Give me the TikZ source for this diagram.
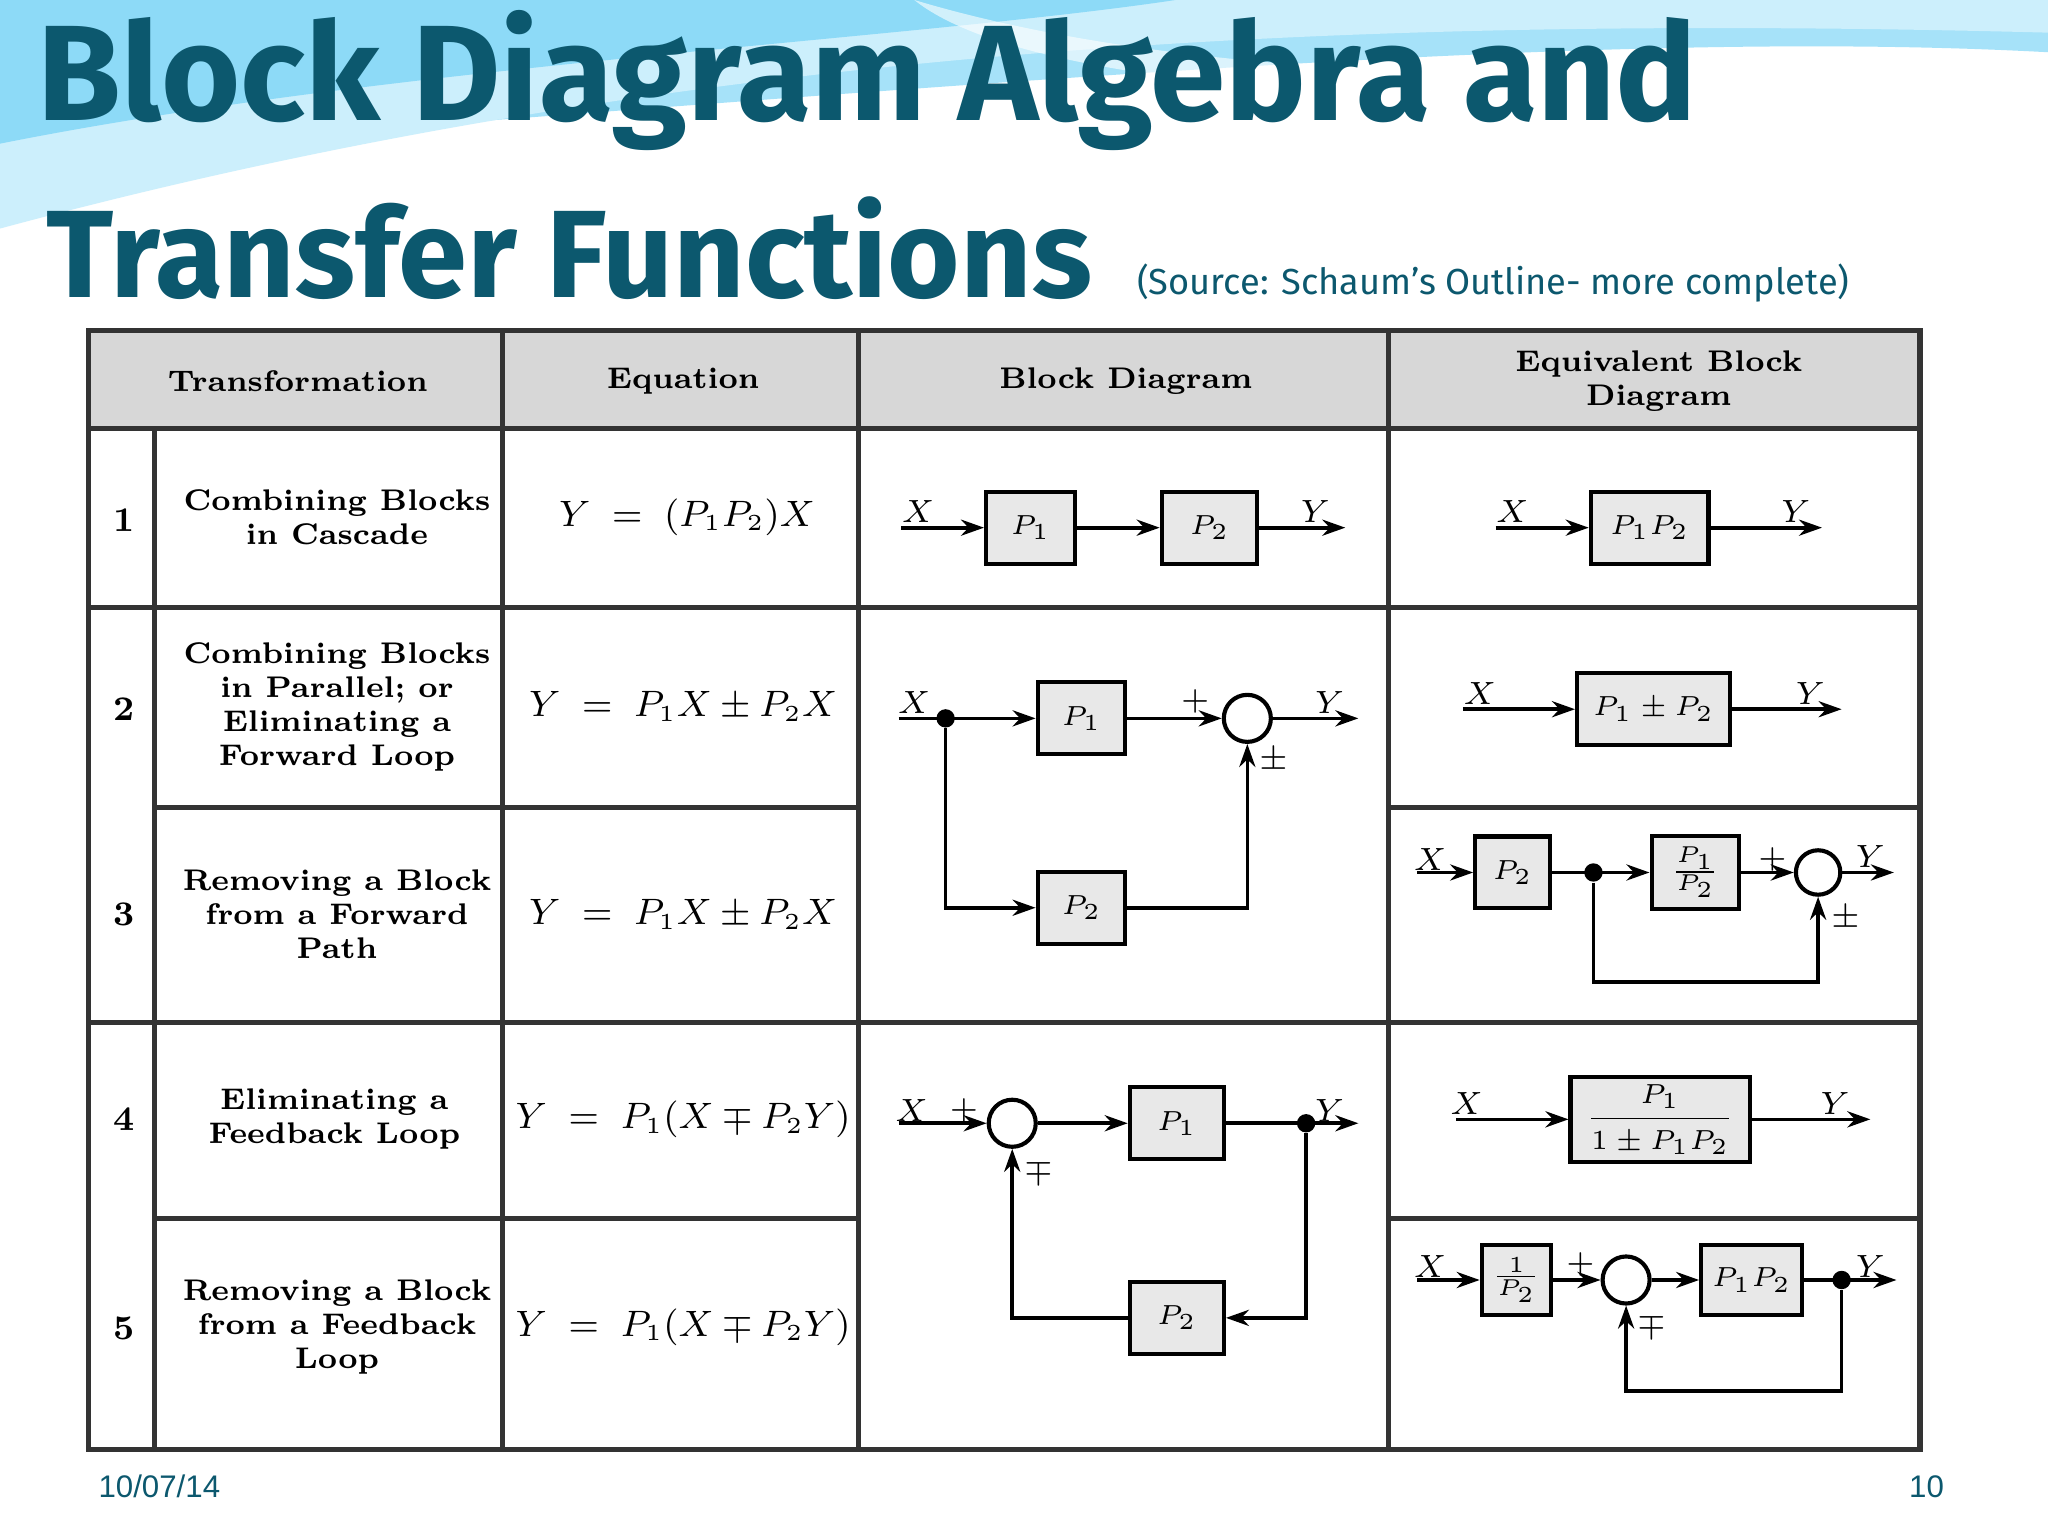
\documentclass[tikz,border=0pt]{standalone}
\usepackage{fontspec}
\usepackage{amsmath}
\newfontfamily\titlefont{Fira Sans}
\newfontfamily\datefont{Liberation Sans}
\usetikzlibrary{arrows.meta}
\definecolor{teal1}{RGB}{12,88,110}
\definecolor{hdr}{RGB}{215,215,215}
\definecolor{boxf}{RGB}{232,232,232}
\tikzset{
 blk/.style={draw,line width=0.9pt,fill=boxf,minimum width=0.68cm,minimum height=0.55cm,inner sep=1pt,font=\fontsize{6.5}{7}\selectfont\bfseries},
 sumc/.style={draw,line width=0.9pt,circle,minimum size=0.36cm,inner sep=0pt},
 arr/.style={line width=0.8pt,-{Stealth[length=5pt,width=3.5pt]}},
 ln/.style={line width=0.8pt},
 dotn/.style={circle,fill=black,inner sep=0pt,minimum size=4pt},
 lab/.style={font=\fontsize{7}{8}\selectfont\itshape\bfseries,inner sep=1pt},
 txt/.style={font=\fontsize{6.5}{7.4}\selectfont\bfseries,align=center},
 eqn/.style={font=\fontsize{7.7}{9}\selectfont},
 grid/.style={line width=1.1pt,draw=black!80}
}
\begin{document}
\begin{tikzpicture}[x=0.01cm,y=-0.01cm]
\useasboundingbox (0,0) rectangle (1568,1176);
\fill[white] (0,0) rectangle (1568,1176);
% top wave
\fill[cyan!35!white] (0,0) -- (1568,0) -- (1568,40) .. controls (1200,20) and (700,70) .. (0,120) -- cycle;
\fill[cyan!20!white] (0,0) -- (1568,0) -- (1568,25) .. controls (1000,10) and (500,40) .. (0,175) -- cycle;
\fill[cyan!55!white,opacity=0.7] (0,0) -- (900,0) .. controls (700,30) and (300,50) .. (0,110) -- cycle;
\fill[white,opacity=0.6] (700,0) .. controls (900,60) and (1200,70) .. (1568,45) -- (1568,60) .. controls (1200,90) and (800,80) .. (700,0);
% title
\node[anchor=west,text=teal1,inner sep=0] (t1) at (28,62) {\resizebox{12.7cm}{!}{\titlefont\bfseries Block Diagram Algebra and}};
\node[anchor=west,text=teal1,inner sep=0] (t2) at (35,190) {\resizebox{8.0cm}{!}{\titlefont\bfseries Transfer Functions}};
\node[anchor=west,text=teal1,inner sep=0] (t3) at (870,217) {\resizebox{5.45cm}{!}{\titlefont (Source: Schaum’s Outline- more complete)}};
\node[text=teal1,font=\datefont\fontsize{6.8}{8}\selectfont] (d1) at (122,1138) {10/07/14};
\node[text=teal1,font=\datefont\fontsize{6.8}{8}\selectfont] (d2) at (1475,1138) {10};
% table
\fill[hdr] (68,253) rectangle (1470,328);
\draw[grid] (68,253) rectangle (1470,1110);
\draw[grid] (68,328) -- (1470,328);
\draw[grid] (118,328) -- (118,1110);
\foreach \x in {385,657,1063} \draw[grid] (\x,253) -- (\x,1110);
\draw[grid] (68,465) -- (1470,465);
\draw[grid] (118,618) -- (657,618) (1063,618) -- (1470,618);
\draw[grid] (68,783) -- (1470,783);
\draw[grid] (118,933) -- (657,933) (1063,933) -- (1470,933);
\node[txt] (h1) at (228,292) {Transformation};
\node[txt] (h2) at (523,292) {Equation};
\node[txt] (h3) at (862,292) {Block Diagram};
\node[txt] (h4) at (1270,292) {Equivalent Block\\Diagram};
\foreach \n/\y in {1/398,2/543,3/700,4/857,5/1017} \node[txt,font=\fontsize{7.5}{9}\selectfont\bfseries] (n\n) at (95,\y) {\n};
\node[txt] (r1) at (258,396) {Combining Blocks\\in Cascade};
\node[txt] (r2) at (258,541) {Combining Blocks\\in Parallel; or\\Eliminating a\\Forward Loop};
\node[txt] (r3) at (258,700) {Removing a Block\\from a Forward\\Path};
\node[txt] (r4) at (256,857) {Eliminating a\\Feedback Loop};
\node[txt] (r5) at (258,1016) {Removing a Block\\from a Feedback\\Loop};
\node[eqn] (e1) at (526,396) {$Y\;=\;(P_1P_2)X$};
\node[eqn] (e2) at (523,541) {$Y\;=\;P_1X\pm P_2X$};
\node[eqn] (e3) at (523,700) {$Y\;=\;P_1X\pm P_2X$};
\node[eqn] (e4) at (523,857) {$Y\;=\;P_1(X\mp P_2Y)$};
\node[eqn] (e5) at (523,1016) {$Y\;=\;P_1(X\mp P_2Y)$};
% ---- row 1 block diagram
\coordinate (a1x) at (690,404);
\node[blk] (a1p1) at (789,404) {$P_1$};
\node[blk,minimum width=0.73cm] (a1p2) at (926,404) {$P_2$};
\coordinate (a1y) at (1030,404);
\draw[arr] (a1x) -- (a1p1.west);
\draw[arr] (a1p1.east) -- (a1p2.west);
\draw[arr] (a1p2.east) -- (a1y);
\node[lab] (l1) at (703,392) {$X$};
\node[lab] (l2) at (1007,392) {$Y$};
% row 1 equivalent
\coordinate (b1x) at (1145,404);
\node[blk,minimum width=0.9cm] (b1p) at (1263,404) {$P_1P_2$};
\coordinate (b1y) at (1395,404);
\draw[arr] (b1x) -- (b1p.west);
\draw[arr] (b1p.east) -- (b1y);
\node[lab] (l3) at (1158,392) {$X$};
\node[lab] (l4) at (1375,392) {$Y$};
% ---- rows 2-3 block diagram
\coordinate (a2x) at (688,550);
\node[dotn] (a2d) at (724,550) {};
\node[blk,minimum width=0.67cm] (a2p1) at (828,550) {$P_1$};
\node[sumc] (a2s) at (955,550) {};
\coordinate (a2y) at (1040,550);
\node[blk,minimum width=0.67cm] (a2p2) at (828,695) {$P_2$};
\draw[arr] (a2x) -- (a2p1.west);
\draw[arr] (a2p1.east) -- (a2s.west);
\draw[arr] (a2s.east) -- (a2y);
\draw[arr] (a2d) |- (a2p2.west);
\draw[arr] (a2p2.east) -| (a2s.south);
\node[lab] (l5) at (700,538) {$X$};
\node[lab] (l6) at (1018,538) {$Y$};
\node[lab] (l7) at (915,537) {$+$};
\node[lab] (l8) at (975,582) {$\pm$};
% row 2 equivalent
\coordinate (b2x) at (1120,543);
\node[blk,minimum width=1.17cm] (b2p) at (1266,543) {$P_1\pm P_2$};
\coordinate (b2y) at (1410,543);
\draw[arr] (b2x) -- (b2p.west);
\draw[arr] (b2p.east) -- (b2y);
\node[lab] (l9) at (1133,531) {$X$};
\node[lab] (l10) at (1386,531) {$Y$};
% row 3 equivalent
\coordinate (b3x) at (1085,668);
\node[blk,minimum width=0.57cm] (b3p2) at (1158,668) {$P_2$};
\node[dotn] (b3d) at (1220,668) {};
\node[blk,minimum width=0.67cm,minimum height=0.56cm] (b3q) at (1298,668) {$\frac{P_1}{P_2}$};
\node[sumc,minimum size=0.34cm] (b3s) at (1392,668) {};
\coordinate (b3y) at (1450,668);
\draw[arr] (b3x) -- (b3p2.west);
\draw[arr] (b3p2.east) -- (b3q.west);
\draw[arr] (b3q.east) -- (b3s.west);
\draw[arr] (b3s.east) -- (b3y);
\draw[arr] (b3d) |- (1392,752) -- (b3s.south);
\node[lab] (l11) at (1095,658) {$X$};
\node[lab] (l12) at (1432,656) {$Y$};
\node[lab] (l13) at (1357,658) {$+$};
\node[lab] (l14) at (1413,703) {$\pm$};
% ---- rows 4-5 block diagram
\coordinate (a4x) at (688,860);
\node[sumc] (a4s) at (775,860) {};
\node[blk,minimum width=0.72cm] (a4p1) at (901,860) {$P_1$};
\node[dotn] (a4d) at (1000,860) {};
\coordinate (a4y) at (1040,860);
\node[blk,minimum width=0.72cm] (a4p2) at (901,1009) {$P_2$};
\draw[arr] (a4x) -- (a4s.west);
\draw[arr] (a4s.east) -- (a4p1.west);
\draw[arr] (a4p1.east) -- (a4y);
\draw[arr] (a4d) |- (a4p2.east);
\draw[arr] (a4p2.west) -| (a4s.south);
\node[lab] (l15) at (698,850) {$X$};
\node[lab] (l16) at (738,850) {$+$};
\node[lab] (l17) at (1018,850) {$Y$};
\node[lab] (l18) at (795,897) {$\mp$};
% row 4 equivalent
\coordinate (b4x) at (1115,857);
\node[blk,minimum width=1.37cm,minimum height=0.65cm] (b4p) at (1271,857) {$\dfrac{P_1}{1\pm P_1P_2}$};
\coordinate (b4y) at (1432,857);
\draw[arr] (b4x) -- (b4p.west);
\draw[arr] (b4p.east) -- (b4y);
\node[lab] (l19) at (1123,845) {$X$};
\node[lab] (l20) at (1405,845) {$Y$};
% row 5 equivalent
\coordinate (b5x) at (1085,980);
\node[blk,minimum width=0.53cm,minimum height=0.53cm] (b5p) at (1161,980) {$\frac{1}{P_2}$};
\node[sumc] (b5s) at (1245,980) {};
\node[blk,minimum width=0.77cm,minimum height=0.53cm] (b5q) at (1341,980) {$P_1P_2$};
\node[dotn] (b5d) at (1410,980) {};
\coordinate (b5y) at (1452,980);
\draw[arr] (b5x) -- (b5p.west);
\draw[arr] (b5p.east) -- (b5s.west);
\draw[arr] (b5s.east) -- (b5q.west);
\draw[arr] (b5q.east) -- (b5y);
\draw[arr] (b5d) |- (1245,1065) -- (b5s.south);
\node[lab] (l21) at (1095,970) {$X$};
\node[lab] (l22) at (1210,968) {$+$};
\node[lab] (l23) at (1432,970) {$Y$};
\node[lab] (l24) at (1265,1015) {$\mp$};
\end{tikzpicture}
\end{document}
